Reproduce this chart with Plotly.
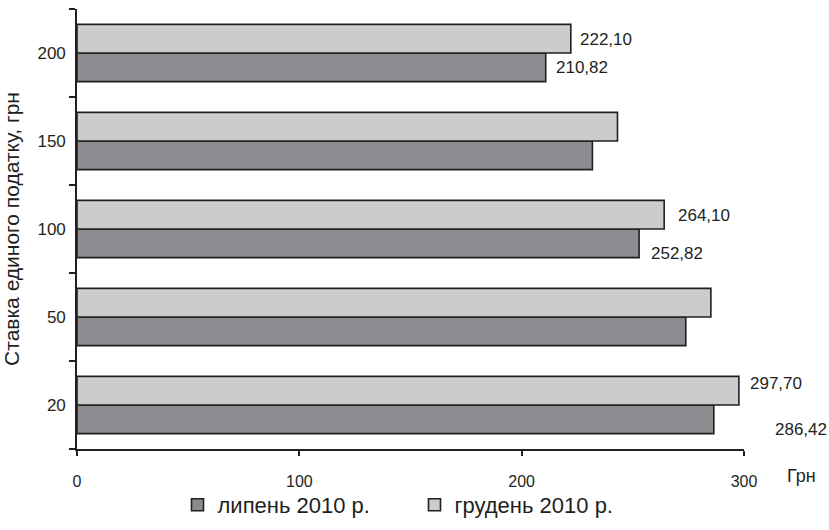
import plotly.graph_objects as go

# Single-tax rates (categories, bottom to top) and amounts in UAH
rates = ["20", "50", "100", "150", "200"]
july_2010 = [286.42, 273.82, 252.82, 231.82, 210.82]
dec_2010 = [297.70, 285.10, 264.10, 243.10, 222.10]

series_names = ["липень 2010 р.", "грудень 2010 р."]
x_ticks = [0, 100, 200, 300]
y_title = "Ставка единого податку, грн"
x_unit = "Грн"

INK = "#231f20"
FONT = "Liberation Sans, Arial, sans-serif"

# which bars carry a value label, and where the label sits (px offsets)
labelled = {
    ("dec", "200"): (7, 14), ("jul", "200"): (8, -14),
    ("dec", "100"): (12, 14), ("jul", "100"): (10, -24),
    ("dec", "20"): (9, 22), ("jul", "20"): (59, -24),
}

fig = go.Figure()
fig.add_trace(go.Bar(
    y=rates, x=july_2010, orientation="h", name=series_names[0],
    marker=dict(color="#8b8c90", line=dict(color=INK, width=1.6)),
))
fig.add_trace(go.Bar(
    y=rates, x=dec_2010, orientation="h", name=series_names[1],
    marker=dict(color="#cbcccd", line=dict(color=INK, width=1.6)),
))

def fmt(v):
    return f"{v:.2f}".replace(".", ",")

annotations = []
for key, values in (("jul", july_2010), ("dec", dec_2010)):
    for idx, (cat, v) in enumerate(zip(rates, values)):
        if (key, cat) in labelled:
            dx, dy = labelled[(key, cat)]
            annotations.append(dict(
                x=v, y=idx, xref="x", yref="y", text=fmt(v), showarrow=False,
                xanchor="left", yanchor="middle", xshift=dx, yshift=dy,
                font=dict(size=17, color=INK, family=FONT),
            ))

annotations.append(dict(
    x=1.061, y=0, xref="paper", yref="paper", text=x_unit, showarrow=False,
    xanchor="left", yanchor="middle", yshift=-27,
    font=dict(size=18, color=INK, family=FONT),
))

fig.update_layout(
    width=829, height=530,
    margin=dict(l=76.5, r=85, t=9, b=81, autoexpand=False),
    paper_bgcolor="white", plot_bgcolor="white",
    barmode="group", bargap=0.35, bargroupgap=0,
    font=dict(family=FONT, size=17, color=INK),
    showlegend=True,
    legend=dict(
        orientation="h", x=0.506, xanchor="center", y=-0.127, yanchor="middle",
        font=dict(size=22, color=INK), traceorder="normal",
        entrywidth=192, entrywidthmode="pixels",
        bgcolor="rgba(0,0,0,0)",
    ),
    annotations=annotations,
)
fig.update_xaxes(
    range=[0, 300], tickvals=x_ticks, showgrid=False, zeroline=False,
    showline=True, linecolor=INK, linewidth=1.6,
    ticks="outside", ticklen=5, tickwidth=1.6, tickcolor=INK,
    tickfont=dict(size=16), ticklabelstandoff=12,
)
fig.update_yaxes(
    type="category", categoryorder="array", categoryarray=rates,
    range=[-0.5, len(rates) - 0.5],
    showgrid=False, zeroline=False,
    showline=True, linecolor=INK, linewidth=1.6,
    ticks="outside", ticklen=6, tickwidth=1.6, tickcolor=INK, tickson="boundaries",
    tickfont=dict(size=17), ticklabelstandoff=6,
    title=dict(text=y_title, font=dict(size=21), standoff=12),
)

fig.write_html("out.html")
